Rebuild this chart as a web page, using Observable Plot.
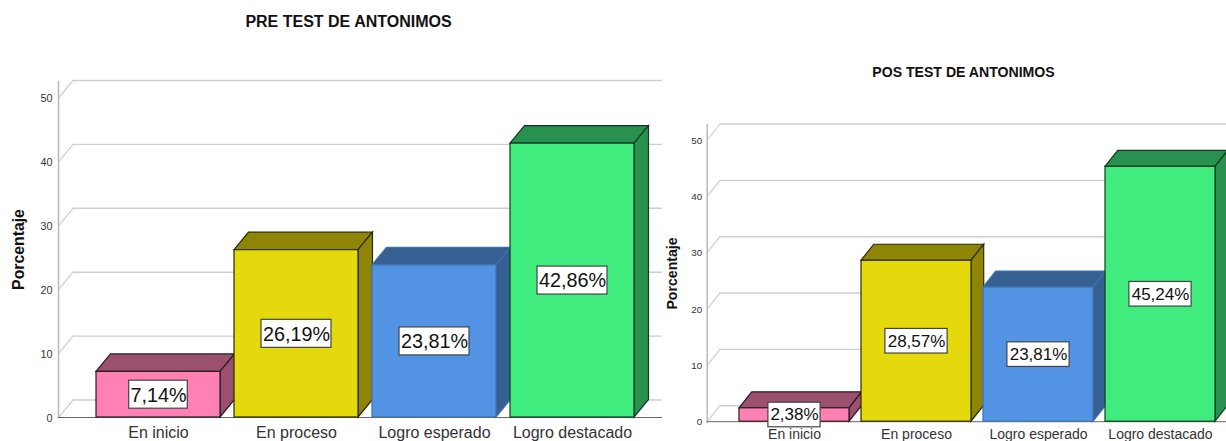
<!DOCTYPE html>
<html>
<head>
<meta charset="utf-8">
<script src="https://cdn.jsdelivr.net/npm/d3@7"></script>
<script src="https://cdn.jsdelivr.net/npm/@observablehq/plot@0.6"></script>
<style>
html,body{margin:0;padding:0;background:#fff;overflow:hidden}
#page{position:relative;width:1226px;height:441px;font-family:"Liberation Sans",Arial,sans-serif}
.panel{position:absolute;top:0}
.panel svg{display:block;max-width:none}
.title{position:absolute;font-weight:bold;color:#111;white-space:nowrap;transform:translate(-50%,-50%)}
</style>
</head>
<body>
<div id="page"></div>
<script>
const categories = ["En inicio", "En proceso", "Logro esperado", "Logro destacado"];
const preValues = [7.14, 26.19, 23.81, 42.86];
const posValues = [2.38, 28.57, 23.81, 45.24];
const yTicks = [0, 10, 20, 30, 40, 50];
const frontColors = ["#FF80B3", "#E3D90D", "#5294E3", "#41EC7F"];
const faceColors = ["#9C5070", "#8E8406", "#365F92", "#28914F"];
const edgeColors = ["#2a1a22", "#2b2a05", "#3f71ad", "#123a20"];
const yLabel = "Porcentaje";

function panel(o) {
  const rows = categories.map((cat, i) => ({
    cat, value: o.values[i], label: o.values[i].toFixed(2).replace(".", ",") + "%",
    front: frontColors[i], face: faceColors[i], edge: edgeColors[i]
  }));
  const wall = "#cfcfcf";
  const slant = Math.hypot(o.depthX, o.depthY);
  const slantAngle = Math.atan2(o.depthX, o.depthY) * 180 / Math.PI;
  const lineShape = {draw(ctx, l) { ctx.moveTo(0, 0); ctx.lineTo(0, -l); }};
  const bandwidth = (o.xRange[1] - o.xRange[0]) / 4 * 0.9;
  const box = (filter, w) => Plot.barY(rows, {
    filter, x: "cat", y1: d => d.value / 2, y2: d => d.value / 2,
    insetLeft: (bandwidth - w) / 2, insetRight: (bandwidth - w) / 2,
    insetTop: -o.boxH / 2, insetBottom: -o.boxH / 2,
    fill: "#fff", stroke: "#444", strokeWidth: 1.2
  });
  const faces = Plot.barY(rows, {
    x: "cat", y: "value",
    render(index, {x, y}) {
      const g = d3.create("svg:g");
      const bw = x.bandwidth();
      for (const i of index) {
        const d = rows[i];
        const x0 = x(d.cat), x1 = x0 + bw, yt = y(d.value), yb = y(0);
        const dx = o.depthX, dy = o.depthY;
        g.append("polygon")
          .attr("points", [[x0, yt], [x0 + dx, yt - dy], [x1 + dx, yt - dy], [x1, yt]].join(" "))
          .attr("fill", d.face).attr("stroke", d.edge).attr("stroke-width", 1.2);
        g.append("polygon")
          .attr("points", [[x1, yt], [x1 + dx, yt - dy], [x1 + dx, yb - dy], [x1, yb]].join(" "))
          .attr("fill", d.face).attr("stroke", d.edge).attr("stroke-width", 1.2);
      }
      return g.node();
    }
  });
  return Plot.plot({
    width: o.width, height: 441,
    marginLeft: o.marginLeft, marginRight: o.marginRight,
    marginTop: o.marginTop, marginBottom: o.marginBottom,
    style: {background: "#fff", fontFamily: '"Liberation Sans", Arial, sans-serif', overflow: "visible"},
    x: {domain: categories, range: o.xRange, paddingInner: 0.1, paddingOuter: 0.05, label: null},
    y: {domain: [0, 50], range: o.yRange, label: null},
    marks: [
      Plot.ruleY(yTicks, {dy: -o.depthY, insetLeft: o.depthX, stroke: wall, strokeWidth: 1.4}),
      Plot.vector(yTicks, {y: d => d, frameAnchor: "left", length: slant, rotate: slantAngle, anchor: "start",
        shape: lineShape, stroke: wall, strokeWidth: 1.2, strokeLinecap: "butt"}),
      Plot.frame({anchor: "left", stroke: "#bdbdbd", strokeWidth: 1.6}),
      Plot.ruleY([0], {stroke: "#666", strokeWidth: 1}),
      faces,
      Plot.barY(rows, {x: "cat", y: "value", fill: "front", stroke: "edge", strokeWidth: 1.2}),
      box(d => d.value < 10, o.boxSmall),
      box(d => d.value >= 10, o.boxLarge),
      Plot.text(rows, {x: "cat", y: d => d.value / 2, text: "label", fontSize: o.valueFont, fill: "#111", dy: o.valueDy}),
      Plot.axisY({ticks: yTicks, tickSize: 0, tickPadding: o.yPad, fontSize: o.yFont, fill: "#333", label: null, dy: o.yDy}),
      Plot.axisX({tickSize: 0, tickPadding: o.xPad, fontSize: o.xFont, fill: "#333", label: null}),
      Plot.text([yLabel], {frameAnchor: "left", dx: o.labelDx, rotate: -90, textAnchor: "middle",
        fontSize: o.labelFont, fontWeight: "bold", fill: "#111"})
    ]
  });
}

const page = document.getElementById("page");
function place(node, left) {
  const d = document.createElement("div");
  d.className = "panel"; d.style.left = left + "px"; d.appendChild(node); page.appendChild(d);
}
function title(text, cx, cy, size) {
  const d = document.createElement("div");
  d.className = "title"; d.textContent = text;
  d.style.left = cx + "px"; d.style.top = cy + "px"; d.style.fontSize = size + "px";
  page.appendChild(d);
}

place(panel({
  values: preValues, width: 662,
  marginLeft: 58, marginRight: 0, marginTop: 81, marginBottom: 24,
  xRange: [88.5, 641.5], yRange: [417, 97.5], depthX: 14.5, depthY: 17.5,
  boxH: 28, boxSmall: 59, boxLarge: 70.4, valueFont: 19.8, valueDy: 0.5,
  yPad: 6, yFont: 10.8, yDy: 1, xPad: 9, xFont: 16, labelDx: -40, labelFont: 15.8
}), 0);
place(panel({
  values: posValues, width: 564,
  marginLeft: 44.7, marginRight: 0, marginTop: 124.3, marginBottom: 19.3,
  xRange: [71, 559], yRange: [421.2, 139.5], depthX: 12.7, depthY: 16,
  boxH: 24.6, boxSmall: 52, boxLarge: 62, valueFont: 17, valueDy: 0,
  yPad: 5, yFont: 9.8, yDy: 0.5, xPad: 6.5, xFont: 14, labelDx: -34.7, labelFont: 14.1
}), 662);
title("PRE TEST DE ANTONIMOS", 348.5, 22, 16);
title("POS TEST DE ANTONIMOS", 963.5, 72, 14.1);
</script>
</body>
</html>
